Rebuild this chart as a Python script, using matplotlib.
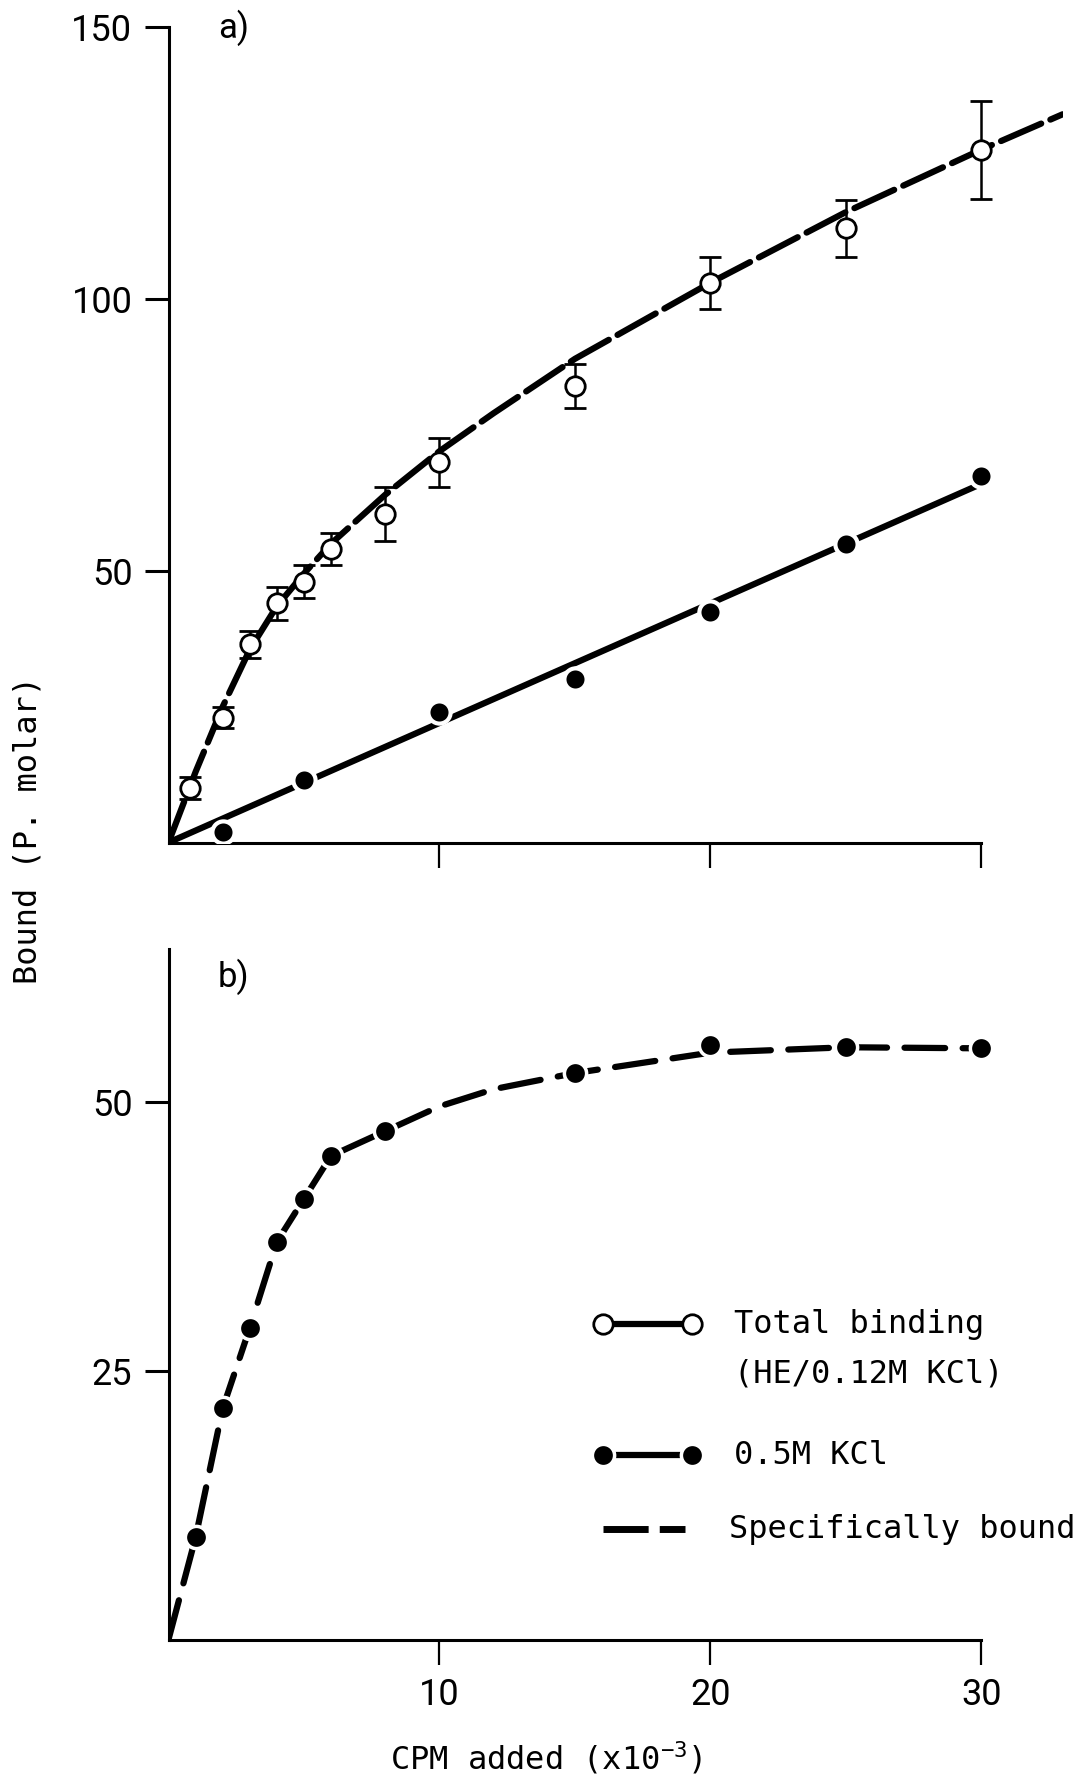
import numpy as np
import matplotlib
matplotlib.use('Agg')
import matplotlib.pyplot as plt
from matplotlib.lines import Line2D

plt.rcParams['font.family'] = ['DejaVu Sans Mono', 'DejaVu Sans']
plt.rcParams['mathtext.default'] = 'regular'

# panel a: total binding (open circles, with SE)
total_x = [0.8, 2, 3, 4, 5, 6, 8, 10, 15, 20, 25, 30]
total_y = [10, 23, 36.5, 44, 48, 54, 60.5, 70, 84, 103, 113, 127.5]
total_err = [2, 2, 2.5, 3, 3, 3, 5, 4.5, 4, 4.8, 5.2, 9]
# fitted curve drawn through the total binding points
total_fit_x = [0, 1, 2, 3, 4, 5, 6, 8, 10, 12, 15, 20, 25, 30, 33]
total_fit_y = [0, 13, 25, 35.5, 43.5, 49.5, 55, 64, 72, 79, 89, 103, 116, 127.5, 134]

# panel a: 0.5M KCl (filled circles)
kcl_x = [2, 5, 10, 15, 20, 25, 30]
kcl_y = [2, 11.5, 24, 30, 42.5, 55, 67.5]
kcl_fit_x = [0, 30]
kcl_fit_y = [0, 66]

# panel b: specifically bound
spec_x = [1, 2, 3, 4, 5, 6, 8, 15, 20, 25, 30]
spec_y = [9.5, 21.5, 29, 37, 41, 45, 47.3, 52.7, 55.3, 55.1, 55]
spec_fit_x = [0, 1, 2, 3, 4, 5, 6, 8, 10, 12, 15, 20, 25, 30]
spec_fit_y = [0, 9.5, 21.5, 29, 37, 41, 45, 47.3, 49.6, 51.2, 52.7, 54.6, 55.1, 55]

tick_font = ['Roboto', 'DejaVu Sans']

fig = plt.figure(figsize=(10.85, 17.85), dpi=100)
ax_a = fig.add_axes([0.1553, 0.528, 0.8241, 0.4567])
ax_b = fig.add_axes([0.1553, 0.0815, 0.8241, 0.3866])

for ax in (ax_a, ax_b):
    ax.set_xlim(0, 33)
    for s in ('top', 'right'):
        ax.spines[s].set_visible(False)
    ax.spines['left'].set_linewidth(2.2)
    ax.spines['bottom'].set_linewidth(2.2)
    ax.spines['bottom'].set_bounds(0, 30)
    ax.set_xticks([10, 20, 30])
    ax.tick_params(axis='x', direction='out', length=18, width=1.6, pad=9)
    ax.tick_params(axis='y', direction='out', length=17, width=2.2, pad=9)

# panel a
ax_a.set_ylim(0, 150)
ax_a.spines['left'].set_bounds(0, 150)
ax_a.set_yticks([50, 100, 150])
ax_a.set_yticklabels(['50', '100', '150'], family=tick_font, fontsize=26)
ax_a.set_xticklabels([])

ax_a.plot(total_fit_x, total_fit_y, color='black', lw=4.5,
          linestyle=(0, (7, 1.6)), dash_capstyle='round', zorder=2)
ax_a.errorbar(total_x, total_y, yerr=total_err, fmt='o', ms=14, mfc='white', mec='black',
              mew=2, ecolor='black', elinewidth=1.8, capsize=8, capthick=2.2, zorder=3)

ax_a.plot(kcl_fit_x, kcl_fit_y, color='black', lw=4.5, zorder=2)
ax_a.plot(kcl_x, kcl_y, 'o', ms=16, mfc='black', mec='white', mew=3, zorder=3)

ax_a.text(0.055, 1.0, 'a)', transform=ax_a.transAxes, fontsize=25,
          family=tick_font, va='center', ha='left')

# panel b
ax_b.set_ylim(0, 64.2)
ax_b.set_yticks([25, 50])
ax_b.set_yticklabels(['25', '50'], family=tick_font, fontsize=26)
ax_b.set_xticklabels(['10', '20', '30'], family=tick_font, fontsize=26)

ax_b.plot(spec_fit_x, spec_fit_y, color='black', lw=4.5,
          linestyle=(0, (6.5, 2.8)), dash_capstyle='round', zorder=2)
ax_b.plot(spec_x, spec_y, 'o', ms=16, mfc='black', mec='white', mew=2.5, zorder=3)

ax_b.text(0.055, 0.96, 'b)', transform=ax_b.transAxes, fontsize=25,
          family=tick_font, va='center', ha='left')

# legend, drawn by hand
tr = ax_b.transAxes
ax_b.add_line(Line2D([0.486, 0.585], [0.457, 0.457], transform=tr, color='black', lw=4.5,
                     marker='o', ms=14, mfc='white', mec='black', mew=2, clip_on=False))
ax_b.add_line(Line2D([0.486, 0.585], [0.267, 0.267], transform=tr, color='black', lw=4.5,
                     marker='o', ms=16, mfc='black', mec='white', mew=2.5, clip_on=False))
ax_b.add_line(Line2D([0.486, 0.578], [0.160, 0.160], transform=tr, color='black', lw=5,
                     linestyle=(0, (6.5, 1.6)), clip_on=False))
ax_b.text(0.633, 0.457, 'Total binding', transform=tr, fontsize=23, va='center')
ax_b.text(0.633, 0.385, '(HE/0.12M KCl)', transform=tr, fontsize=23, va='center')
ax_b.text(0.633, 0.267, '0.5M KCl', transform=tr, fontsize=23, va='center')
ax_b.text(0.627, 0.160, 'Specifically bound', transform=tr, fontsize=23, va='center')

fig.text(0.026, 0.535, 'Bound (P. molar)', rotation=90, fontsize=23, va='center', ha='center')
fig.text(0.503, 0.015, r'CPM added (x10$^{-3}$)', fontsize=23, va='center', ha='center')

fig.savefig('out.png', dpi=100, facecolor='white')
